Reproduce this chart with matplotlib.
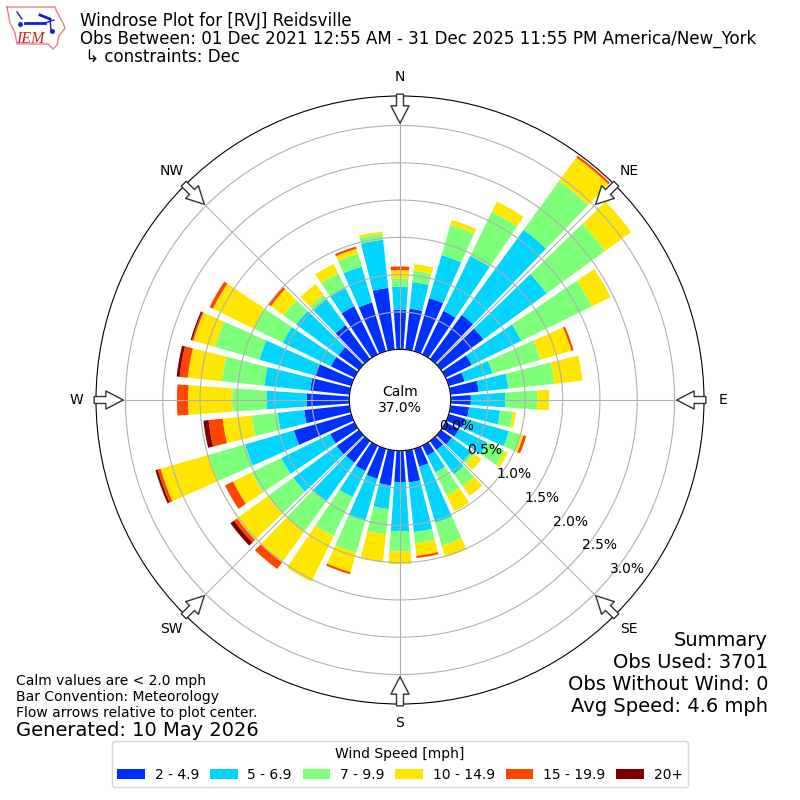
import numpy as np
import matplotlib
matplotlib.use("Agg")
import matplotlib.pyplot as plt

# direction of each bar, degrees from north
directions = np.arange(0, 360, 10)

# percent of observations per speed bin, one value per direction
speed_2_5 = [.53, .55, .74, .65, .73, .70, .39, .22, .38, .27, .25, .23,
             .20, .18, .15, .15, .25, .43, .42, .47, .42, .38, .36, .37,
             .36, .80, .61, .57, .53, .51, .35, .34, .56, .72, .68, .83]
speed_5_7 = [.31, .36, .60, .82, 1.41, 1.05, .74, .39, .40, .46, .42, .61,
             .42, .32, .40, .25, .78, .67, .66, .32, .58, .39, .64, .72,
             .73, .68, .36, .54, .62, .77, .72, .70, .43, .27, .50, .65]
speed_7_10 = [.11, .15, .42, .66, .81, .97, 1.05, .67, .62, .43, .17, .17,
              .26, .05, .20, .34, .32, .15, .27, .34, .45, .58, .50, .42,
              .44, .51, .35, .46, .57, .62, .44, .21, .07, .22, .18, .08]
speed_10_15 = [.11, .09, .07, .15, .39, .43, .28, .43, .38, .16, .04, .03,
               .05, .12, .16, .24, .16, .17, .17, .37, .27, .68, .51, .51,
               .28, .67, .39, .59, .46, .30, .60, .21, .18, .14, .07, .03]
speed_15_20 = [.05, 0, 0, 0, .03, 0, 0, .03, 0, 0, 0, .04,
               0, 0, 0, 0, 0, .03, 0, 0, .03, 0, .11, .05,
               .12, .04, .19, .15, .11, .02, .05, .04, 0, 0, .03, 0]
speed_20_up = [0, 0, 0, 0, 0, 0, 0, 0, 0, 0, 0, 0,
               0, 0, 0, 0, 0, 0, 0, 0, 0, 0, 0, .06,
               0, .03, .07, 0, .04, .02, 0, 0, 0, 0, 0, 0]

bins = [speed_2_5, speed_5_7, speed_7_10, speed_10_15, speed_15_20, speed_20_up]
bin_labels = ["2 - 4.9", "5 - 6.9", "7 - 9.9", "10 - 14.9", "15 - 19.9", "20+"]
bin_colors = ["#0030ff", "#00d4ff", "#7dff7a", "#ffe600", "#ff4600", "#7f0000"]

ring_values = [0, 0.5, 1.0, 1.5, 2.0, 2.5, 3.0]
compass_angles = [0, 45, 90, 135, 180, 225, 270, 315]
compass_labels = ["N", "NE", "E", "SE", "S", "SW", "W", "NW"]

fig = plt.figure(figsize=(8, 8), dpi=100)
ax = fig.add_axes([0.12, 0.12, 0.76, 0.76], projection="polar")
ax.set_theta_zero_location("N")
ax.set_theta_direction(-1)

# stacked bars
theta = np.deg2rad(directions)
bottom = np.zeros(len(directions))
for values, label, color in zip(bins, bin_labels, bin_colors):
    ax.bar(theta, values, width=np.deg2rad(8), bottom=bottom, color=color,
           label=label, linewidth=0)
    bottom = bottom + np.array(values)

ax.set_rorigin(-0.68)
ax.set_rlim(0, 3.395)
ax.set_rgrids(ring_values, labels=["%.1f%%" % v for v in ring_values])
ax.set_rlabel_position(130)
ax.set_thetagrids(compass_angles, labels=compass_labels)
ax.tick_params(axis="x", pad=3.5)
ax.grid(True, color="#b0b0b0", linewidth=0.8)

# flow arrows on the eight main directions
for angle in compass_angles:
    ax.annotate("", xy=(np.deg2rad(angle), 3.03), xytext=(np.deg2rad(angle), 3.42),
                annotation_clip=False,
                arrowprops=dict(arrowstyle="simple,head_length=1.25,head_width=1.3,tail_width=0.5",
                                mutation_scale=10, shrinkA=0, shrinkB=0,
                                facecolor="white", edgecolor="#333333", linewidth=1))

fig.text(0.5, 0.5, "Calm\n37.0%", ha="center", va="center", fontsize=10)

fig.text(0.1, 0.985, "Windrose Plot for [RVJ] Reidsville\n"
         "Obs Between: 01 Dec 2021 12:55 AM - 31 Dec 2025 11:55 PM America/New_York\n"
         " ↳ constraints: Dec", ha="left", va="top", fontsize=12, linespacing=0.98)

fig.text(0.96, 0.105, "Summary\nObs Used: 3701\nObs Without Wind: 0\nAvg Speed: 4.6 mph",
         ha="right", va="bottom", fontsize=14)
fig.text(0.02, 0.1, "Calm values are < 2.0 mph\nBar Convention: Meteorology\n"
         "Flow arrows relative to plot center.", ha="left", va="bottom", fontsize=10)
fig.text(0.02, 0.075, "Generated: 10 May 2026", ha="left", va="bottom", fontsize=14)

handles, labels = ax.get_legend_handles_labels()
fig.legend(handles, labels, title="Wind Speed [mph]", ncol=6, loc="lower center",
           bbox_to_anchor=(0.5, 0.007), fontsize=10, columnspacing=0.77, handletextpad=0.7)

# IEM logo, pixel coordinates of the top left corner
logo = fig.add_axes([0, 0, 1, 1], facecolor="none")
logo.set_xlim(0, 800)
logo.set_ylim(800, 0)
logo.axis("off")
logo.plot([7, 55, 57, 63, 65, 59, 57, 53, 48, 17, 15, 10, 7],
          [7, 7, 12, 23, 28, 36, 45, 49, 44, 44, 33, 23, 7],
          color="#e88080", linewidth=1)
logo.plot([25, 45], [23, 23], color="#1020d0", linewidth=2)
logo.plot([17, 22], [12, 19], color="#1020d0", linewidth=1)
logo.plot([40, 50], [15, 19], color="#1020d0", linewidth=2)
logo.plot([45, 54], [23, 20], color="#1020d0", linewidth=1)
logo.plot([50, 51], [20, 30], color="#1020d0", linewidth=1)
logo.plot([20, 52], [24, 31], "o", color="#1020d0", markersize=2.5)
logo.text(30.5, 39, "IEM", color="#d02020", family="Liberation Serif", style="italic",
          fontsize=11.5, ha="center", va="center")

fig.savefig("out.png", dpi=100)
